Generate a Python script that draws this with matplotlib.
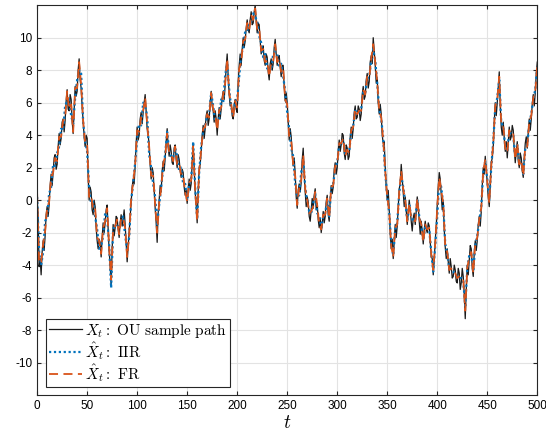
import numpy as np
import matplotlib
matplotlib.use('Agg')
import matplotlib.pyplot as plt

# time grid
t = np.arange(0, 501)
t2 = np.arange(0, 501, 2)

# OU sample path: values at even t and at odd t
x_ou_even = [0.3, -4.1, -4.6, -2.5, -2.2, -0.4, -0.3, 1.6, 1.7, 2.8,
             2.2, 4.1, 3.8, 5.0, 4.9, 6.8, 5.5, 6.2, 4.1, 7.0,
             6.7, 8.7, 6.9, 4.9, 3.3, 3.8, 0.0, 0.5, -0.9, -0.4,
             -2.5, -2.4, -3.5, -1.4, -1.4, -0.3, -3.1, -5.3, -1.5, -1.7,
             -1.1, -2.3, -0.9, -1.2, -1.5, -3.8, -2.1, -0.2, 1.3, 2.1,
             4.5, 4.0, 5.4, 5.4, 6.5, 4.4, 3.4, 1.3, 1.7, -0.5,
             -2.6, 0.0, 0.5, 2.4, 2.6, 4.4, 2.7, 3.0, 2.2, 3.4,
             2.0, 2.5, 1.4, 1.7, 0.3, -0.2, 1.3, 1.0, 3.5, 0.5,
             -1.4, 1.9, 3.0, 4.6, 4.4, 5.5, 5.0, 6.7, 5.5, 5.5,
             4.0, 5.7, 5.6, 6.7, 7.1, 9.0, 6.5, 6.0, 5.0, 6.2,
             5.4, 8.3, 8.3, 10.0, 9.8, 11.1, 10.3, 11.6, 10.9, 12.0,
             10.3, 10.8, 9.0, 9.5, 8.3, 8.8, 7.4, 8.7, 8.4, 9.9,
             8.3, 8.9, 7.6, 8.3, 6.1, 6.0, 3.7, 3.9, 2.1, 1.6,
             -0.5, 1.0, 1.1, 3.2, 0.5, 0.2, -1.0, -0.6, -0.5, 0.7,
             -0.2, -1.7, -2.0, -0.7, -1.0, 0.3, -1.3, 0.9, 0.8, 2.3,
             2.0, 3.7, 3.4, 4.0, 2.5, 3.2, 2.7, 4.5, 4.4, 5.8,
             5.1, 5.6, 5.3, 7.0, 6.4, 7.8, 7.3, 8.9, 10.0, 8.3,
             7.5, 5.3, 5.3, 3.5, 2.0, 0.0, -0.6, -3.0, -3.6, -1.5,
             -1.6, 0.7, 2.2, 0.5, 0.2, -1.5, 0.0, -1.3, -1.1, -1.5,
             0.2, -1.3, -1.3, -2.7, -1.3, -2.0, -1.6, -3.5, -4.6, -2.5,
             -0.3, 1.7, 0.4, 0.0, -2.9, -3.0, -4.5, -4.1, -4.7, -4.3,
             -5.1, -4.5, -5.1, -4.7, -7.3, -4.0, -3.7, -3.0, -4.7, -2.5,
             -2.5, -1.0, -0.7, 2.0, 2.7, 1.0, -0.4, 2.3, 3.3, 6.0,
             6.0, 7.9, 4.5, 4.8, 3.0, 2.6, 4.5, 3.9, 4.3, 2.3,
             3.6, 2.0, 2.6, 1.4, 3.5, 3.2, 5.0, 5.0, 6.5, 6.6,
             8.5]

x_ou_odd = [-1.2, -3.6, -3.2, -3.1, -0.9, -1.0, 0.9, 0.9, 2.6, 1.9,
            3.3, 3.4, 4.8, 4.2, 6.1, 5.6, 6.5, 4.9, 5.6, 6.4,
            8.0, 7.4, 5.8, 3.9, 4.0, 1.6, 0.8, -0.6, 0.0, -1.7,
            -3.0, -2.6, -2.3, -2.0, -0.6, -1.8, -4.0, -3.0, -2.2, -1.0,
            -1.8, -1.4, -1.6, -0.6, -2.6, -2.9, -1.0, 0.8, 1.0, 3.5,
            3.7, 5.0, 4.7, 6.0, 5.4, 4.0, 2.2, 2.0, 0.6, -1.4,
            -0.8, 0.9, 1.8, 1.8, 3.6, 3.3, 3.4, 2.3, 3.2, 2.5,
            2.8, 1.8, 1.9, 0.8, 0.6, 0.6, 0.6, 2.3, 2.0, -0.3,
            0.6, 2.2, 4.0, 3.8, 5.2, 4.6, 6.0, 5.8, 4.8, 5.0,
            5.0, 5.0, 6.3, 6.2, 8.2, 7.6, 5.8, 5.2, 5.9, 5.6,
            7.2, 9.0, 9.3, 9.4, 10.6, 10.5, 11.1, 10.8, 11.6, 11.0,
            10.9, 9.8, 9.4, 8.6, 9.0, 7.9, 8.4, 8.0, 9.4, 9.0,
            8.8, 8.2, 8.3, 7.0, 6.6, 4.8, 4.4, 2.8, 2.6, 0.2,
            0.6, 0.5, 2.5, 1.6, -0.4, -0.1, -1.3, 0.1, 0.3, -0.6,
            -1.2, -1.1, -1.5, -1.4, -0.1, -0.9, 0.0, 0.4, 1.9, 1.6,
            3.0, 3.0, 4.1, 2.9, 3.4, 2.5, 3.9, 3.8, 5.4, 5.0,
            5.8, 4.9, 6.5, 6.2, 7.4, 6.9, 8.5, 8.4, 9.2, 7.2,
            6.0, 5.9, 4.0, 3.6, 0.8, 0.6, -2.0, -2.4, -2.5, -2.3,
            -0.4, 1.0, 1.3, -0.4, -0.7, -0.8, -0.6, -1.9, -0.8, -0.6,
            -0.3, -2.1, -1.9, -1.8, -1.8, -1.4, -2.6, -3.6, -3.7, -1.6,
            0.8, 1.3, -0.6, -1.8, -3.6, -3.8, -3.6, -4.8, -4.0, -5.0,
            -4.2, -5.5, -4.2, -5.8, -5.5, -4.6, -2.8, -4.2, -3.2, -3.1,
            -1.5, -1.6, 0.9, 1.6, 1.9, 0.2, 1.0, 2.6, 4.8, 5.2,
            7.0, 5.8, 4.0, 3.8, 3.6, 3.5, 3.7, 4.6, 3.1, 3.0,
            2.4, 2.9, 1.8, 2.6, 3.9, 4.2, 4.3, 5.9, 5.8, 7.8]

# IIR and FR estimates (every 2 units of t)
x_iir = [0.2, -3.2, -4.0, -3.2, -1.3, -1.0, 0.4, 0.8, 2.2, 2.1,
         2.9, 3.3, 4.4, 4.3, 5.8, 6.1, 6.2, 5.2, 4.7, 6.3,
         7.4, 8.0, 7.8, 4.8, 3.6, 3.0, 0.7, -0.2, -0.1, -1.0,
         -1.8, -3.0, -2.8, -2.2, -0.8, -1.0, -2.8, -5.4, -1.8, -1.5,
         -1.7, -1.6, -1.3, -1.0, -2.2, -3.0, -2.3, 0.0, 1.0, 2.3,
         3.8, 4.7, 4.6, 6.0, 5.8, 5.2, 2.8, 2.0, 1.0, 0.2,
         -1.5, -0.3, 0.8, 2.0, 2.8, 4.2, 3.0, 2.7, 2.6, 3.2,
         2.7, 1.8, 2.0, 1.0, 1.0, 0.0, 1.0, 1.3, 3.6, 0.8,
         -1.2, 1.7, 3.3, 4.2, 4.6, 5.2, 5.3, 6.6, 5.8, 4.8,
         4.8, 5.0, 6.2, 6.0, 7.7, 8.4, 6.8, 5.7, 5.3, 6.0,
         6.2, 7.6, 9.0, 9.3, 10.4, 10.4, 11.0, 11.0, 11.5, 11.3,
         11.0, 10.1, 9.7, 8.8, 9.0, 8.1, 8.2, 8.0, 9.0, 9.1,
         9.0, 8.2, 8.4, 7.6, 6.7, 5.4, 4.4, 3.2, 2.7, 1.0,
         0.2, 0.3, 1.7, 2.5, 0.8, -0.1, -0.7, -0.8, -0.2, 0.4,
         -0.8, -1.0, -1.7, -1.0, -0.8, 0.0, -1.0, 0.7, 1.0, 2.0,
         2.3, 3.4, 3.6, 3.7, 2.8, 3.0, 3.0, 4.2, 4.6, 5.5,
         5.4, 5.4, 5.6, 6.7, 6.6, 7.5, 7.6, 8.6, 9.3, 8.6,
         7.2, 5.6, 5.0, 3.8, 1.7, 0.3, -0.8, -2.7, -3.4, -1.8,
         -1.4, 0.4, 1.5, 0.8, -0.1, -1.2, -0.3, -1.0, -1.3, -1.2,
         0.0, -1.0, -1.6, -2.5, -1.6, -1.7, -1.8, -3.2, -4.4, -2.8,
         -1.0, 1.2, 0.8, -0.3, -2.7, -3.3, -4.2, -4.3, -4.4, -4.6,
         -4.7, -4.8, -4.8, -5.0, -6.5, -4.3, -3.4, -3.3, -4.4, -2.8,
         -2.2, -1.3, -0.4, 1.7, 2.4, 1.3, 0.0, 2.0, 3.6, 5.7,
         6.3, 7.4, 4.8, 4.5, 3.3, 3.0, 4.2, 4.1, 4.0, 2.6,
         3.4, 2.3, 2.4, 1.6, 3.2, 3.4, 4.7, 5.3, 6.2, 6.8,
         8.2]

x_fr = [0.4, -3.9, -3.8, -2.7, -1.9, -0.5, -0.1, 1.4, 1.7, 2.6,
        2.4, 3.9, 3.9, 4.9, 5.1, 6.7, 5.6, 5.9, 4.2, 6.9,
        6.9, 8.5, 7.1, 4.9, 3.5, 3.5, 0.2, 0.3, -0.6, -0.5,
        -2.3, -2.5, -3.3, -1.7, -1.3, -0.5, -2.9, -4.9, -1.7, -1.6,
        -1.2, -2.1, -1.1, -1.1, -1.7, -3.5, -2.2, 0.1, 1.1, 2.2,
        4.3, 4.2, 5.1, 5.5, 6.3, 4.7, 3.3, 1.5, 1.5, -0.3,
        -2.0, -0.2, 0.7, 2.2, 2.7, 4.1, 2.9, 2.8, 2.4, 3.3,
        2.2, 2.3, 1.5, 1.5, 0.5, -0.1, 1.1, 1.2, 3.3, 0.6,
        -1.3, 1.8, 3.1, 4.4, 4.5, 5.3, 5.1, 6.6, 5.6, 5.3,
        4.3, 5.5, 5.7, 6.5, 7.2, 8.7, 6.6, 5.9, 5.1, 6.1,
        5.7, 8.1, 8.5, 9.8, 9.9, 10.9, 10.5, 11.4, 11.1, 11.8,
        10.5, 10.6, 9.2, 9.3, 8.5, 8.6, 7.6, 8.5, 8.5, 9.6,
        8.5, 8.7, 7.9, 8.1, 6.2, 5.9, 3.9, 3.7, 2.2, 1.5,
        -0.3, 0.8, 1.2, 2.8, 0.7, 0.0, -0.8, -0.7, -0.4, 0.5,
        -0.3, -1.5, -1.8, -0.9, -0.9, 0.1, -1.1, 0.8, 0.9, 2.1,
        2.2, 3.5, 3.5, 3.8, 2.7, 3.1, 2.9, 4.3, 4.5, 5.6,
        5.3, 5.5, 5.5, 6.8, 6.5, 7.6, 7.5, 8.7, 9.6, 8.5,
        7.3, 5.5, 5.1, 3.7, 1.8, 0.2, -0.7, -2.8, -3.5, -1.7,
        -1.5, 0.5, 1.8, 0.7, 0.0, -1.3, -0.2, -1.1, -1.2, -1.3,
        0.1, -1.1, -1.5, -2.6, -1.5, -1.8, -1.7, -3.3, -4.3, -2.7,
        -0.5, 1.4, 0.6, -0.2, -2.8, -3.2, -4.3, -4.2, -4.5, -4.5,
        -4.8, -4.7, -4.9, -4.9, -6.8, -4.2, -3.5, -3.2, -4.5, -2.7,
        -2.3, -1.2, -0.5, 1.8, 2.5, 1.2, -0.2, 2.1, 3.5, 5.8,
        6.2, 7.6, 4.7, 4.6, 3.2, 2.9, 4.3, 4.0, 4.1, 2.5,
        3.5, 2.2, 2.5, 1.5, 3.3, 3.3, 4.8, 5.2, 6.3, 6.7,
        8.3]

labels = [r'$X_t\mathrm{:\ OU\ sample\ path}$',
          r'$\hat{X}_t\mathrm{:\ IIR}$',
          r'$\hat{X}_t\mathrm{:\ FR}$']

# put even and odd samples back in time order
x_ou = np.empty(len(t))
x_ou[0::2] = x_ou_even
x_ou[1::2] = x_ou_odd

plt.rcParams['font.family'] = ['Liberation Sans', 'DejaVu Sans']
plt.rcParams['mathtext.fontset'] = 'cm'
plt.rcParams['axes.unicode_minus'] = False

fig = plt.figure(figsize=(5.46, 4.36), dpi=100)
ax = fig.add_axes([0.068, 0.094, 0.916, 0.894])

ax.plot(t, x_ou, color='#1a1a1a', lw=0.9, label=labels[0])
ax.plot(t2, x_iir, color='#0072BD', lw=1.6, ls=(0, (1, 1.2)), label=labels[1])
ax.plot(t2, x_fr, color='#D95319', lw=1.3, ls=(0, (5, 3)), label=labels[2])

ax.set_xlim(0, 500)
ax.set_ylim(-12, 12)
ax.set_xticks(range(0, 501, 50))
ax.set_yticks(range(-10, 11, 2))
ax.grid(True, color='#e3e3e3', lw=0.8)
ax.set_axisbelow(True)
ax.tick_params(direction='in', top=True, right=True, labelsize=8.5,
               length=3, color='#262626')
for s in ax.spines.values():
    s.set_color('#262626')
    s.set_linewidth(0.8)

ax.set_xlabel(r'$t$', fontsize=14, labelpad=2)

leg = ax.legend(loc='lower left', fontsize=11, fancybox=False,
                framealpha=1, edgecolor='#262626', borderpad=0.2,
                handlelength=2.2, handletextpad=0.2, labelspacing=0.0,
                borderaxespad=0.55)
leg.get_frame().set_linewidth(0.8)

fig.savefig('out.png', dpi=100)
